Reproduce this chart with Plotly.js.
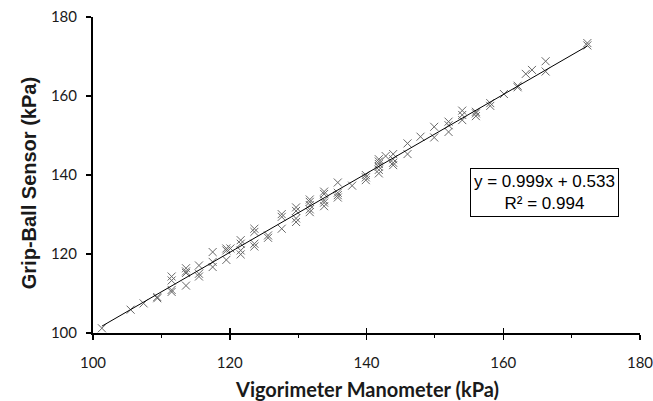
<!DOCTYPE html>
<html>
<head>
<meta charset="utf-8">
<script src="https://cdn.plot.ly/plotly-3.0.1.min.js"></script>
<style>html,body{margin:0;padding:0;background:#fff;}#chart{width:653px;height:401px;}</style>
</head>
<body>
<div id="chart"></div>
<script>
// Vigorimeter manometer readings (kPa)
const vigorimeter = [
  101.3, 105.5, 107.4, 109.4, 109.4,
  111.5, 111.5, 111.5, 111.5,
  113.6, 113.6, 113.6, 113.6,
  115.5, 115.5, 115.5,
  117.5, 117.5, 117.5,
  119.5, 119.5, 119.5, 120.1,
  121.6, 121.6, 121.6, 121.6,
  123.6, 123.6, 123.6, 123.6,
  125.6, 125.6,
  127.6, 127.6, 127.6,
  129.7, 129.7, 129.7, 129.7,
  131.7, 131.7, 131.7, 131.7, 131.7,
  133.8, 133.8, 133.8, 133.8, 133.8,
  135.8, 135.8, 135.8, 135.8,
  137.9,
  139.9, 139.9, 139.9,
  141.8, 141.8, 141.8, 141.8, 141.8, 141.8,
  142.8,
  143.9, 143.9, 143.9, 143.9,
  146.0, 146.0,
  147.9,
  149.9, 149.9,
  152.0, 152.0, 152.0,
  154.0, 154.0, 154.0,
  156.0, 156.0, 156.0,
  158.1, 158.1,
  160.1,
  162.1, 162.1,
  163.3, 164.2,
  166.2, 166.2,
  172.3, 172.3
];
// Grip-ball sensor readings (kPa)
const gripBall = [
  101.2, 105.9, 107.5, 109.1, 108.8,
  114.3, 113.3, 110.9, 110.4,
  116.4, 115.6, 115.2, 112.0,
  117.1, 115.0, 114.3,
  120.5, 118.0, 116.7,
  121.4, 120.9, 118.5, 121.4,
  123.5, 122.6, 120.9, 119.9,
  126.4, 125.6, 122.6, 121.9,
  124.7, 124.1,
  130.1, 129.4, 126.4,
  131.8, 130.9, 129.0, 128.1,
  133.8, 133.2, 132.4, 131.3, 130.6,
  135.8, 135.2, 133.6, 133.0, 132.1,
  138.1, 135.5, 134.9, 134.3,
  137.3,
  140.0, 139.4, 138.7,
  144.0, 143.4, 142.8, 142.1, 141.3, 140.4,
  144.8,
  145.3, 144.0, 143.1, 142.5,
  148.0, 145.3,
  149.7,
  152.2, 149.5,
  153.5, 152.6, 150.9,
  156.3, 155.2, 153.9,
  156.0, 155.6, 154.9,
  158.2, 157.5,
  160.5,
  162.6, 162.2,
  165.6, 166.6,
  168.8, 166.2,
  173.4, 172.8
];
// Linear fit reported in the chart
const slope = 0.999;
const intercept = 0.533;
const r2 = 0.994;
const xTicks = [100, 120, 140, 160, 180];
const yTicks = [100, 120, 140, 160, 180];

const xMin = Math.min(...vigorimeter), xMax = Math.max(...vigorimeter);
const fitX = [xMin, xMax];
const fitY = fitX.map(v => slope * v + intercept);

const traces = [
  {
    type: 'scatter', mode: 'markers',
    x: vigorimeter, y: gripBall,
    marker: {symbol: 'x-thin-open', size: 8, color: '#686868', line: {color: '#686868', width: 1}},
    hoverinfo: 'skip', showlegend: false
  },
  {
    type: 'scatter', mode: 'lines',
    x: fitX, y: fitY, xaxis: 'x2', yaxis: 'y',
    line: {color: '#000', width: 1},
    hoverinfo: 'skip', showlegend: false
  }
];

const tickFont = {family: 'Lato, sans-serif', size: 15, color: '#1a1a1a'};

const layout = {
  width: 653, height: 401,
  margin: {l: 93, r: 13, t: 17, b: 68},
  paper_bgcolor: '#fff', plot_bgcolor: '#fff',
  showlegend: false,
  xaxis: {
    range: [100, 180], tickvals: xTicks, ticktext: xTicks.map(String),
    showgrid: false, zeroline: false,
    showline: true, linecolor: '#000', linewidth: 2,
    ticks: 'outside', ticklen: 5, tickwidth: 1.5, tickcolor: '#000',
    ticklabelstandoff: 10, ticklabeloverflow: 'allow',
    minor: {dtick: 10, tick0: 0, ticks: 'outside', ticklen: 3, tickwidth: 1, tickcolor: '#000'},
    tickfont: tickFont, fixedrange: true
  },
  xaxis2: {
    overlaying: 'x', matches: 'x', anchor: 'y', side: 'bottom',
    range: [100, 180], tickvals: xTicks,
    showticklabels: false, showgrid: false, zeroline: false, showline: false,
    ticks: 'inside', ticklen: 5, tickwidth: 1.5, tickcolor: '#000', fixedrange: true
  },
  yaxis: {
    range: [100, 180], tickvals: yTicks, ticktext: yTicks.map(String),
    showgrid: false, zeroline: false,
    showline: true, linecolor: '#000', linewidth: 2,
    ticks: 'outside', ticklen: 5, tickwidth: 1.5, tickcolor: '#000',
    ticklabelstandoff: 6, ticklabeloverflow: 'allow',
    tickfont: tickFont, fixedrange: true
  },
  annotations: [
    {
      xref: 'paper', yref: 'paper', x: 0.5, y: -0.176,
      xanchor: 'center', yanchor: 'middle', showarrow: false,
      text: 'Vigorimeter Manometer (kPa)',
      font: {family: 'Lato, sans-serif', size: 20, color: '#1a1a1a', weight: 'bold'}
    },
    {
      xref: 'paper', yref: 'paper', x: -0.117, y: 0.474,
      xanchor: 'center', yanchor: 'middle', showarrow: false, textangle: -90,
      text: 'Grip-Ball Sensor (kPa)',
      font: {family: 'Liberation Sans, Arial, sans-serif', size: 20, color: '#1a1a1a', weight: 'bold'}
    },
    {
      xref: 'paper', yref: 'paper', x: 0.825, y: 0.4447,
      xanchor: 'center', yanchor: 'middle', showarrow: false,
      text: 'y = ' + slope.toFixed(3) + 'x + ' + intercept.toFixed(3) + '<br>R² = ' + r2.toFixed(3),
      align: 'center',
      font: {family: 'Liberation Sans, Arial, sans-serif', size: 17, color: '#000'},
      bordercolor: '#000', borderwidth: 1, borderpad: 3, bgcolor: '#fff'
    }
  ]
};

Plotly.newPlot('chart', traces, layout, {staticPlot: true, displayModeBar: false});
</script>
</body>
</html>
